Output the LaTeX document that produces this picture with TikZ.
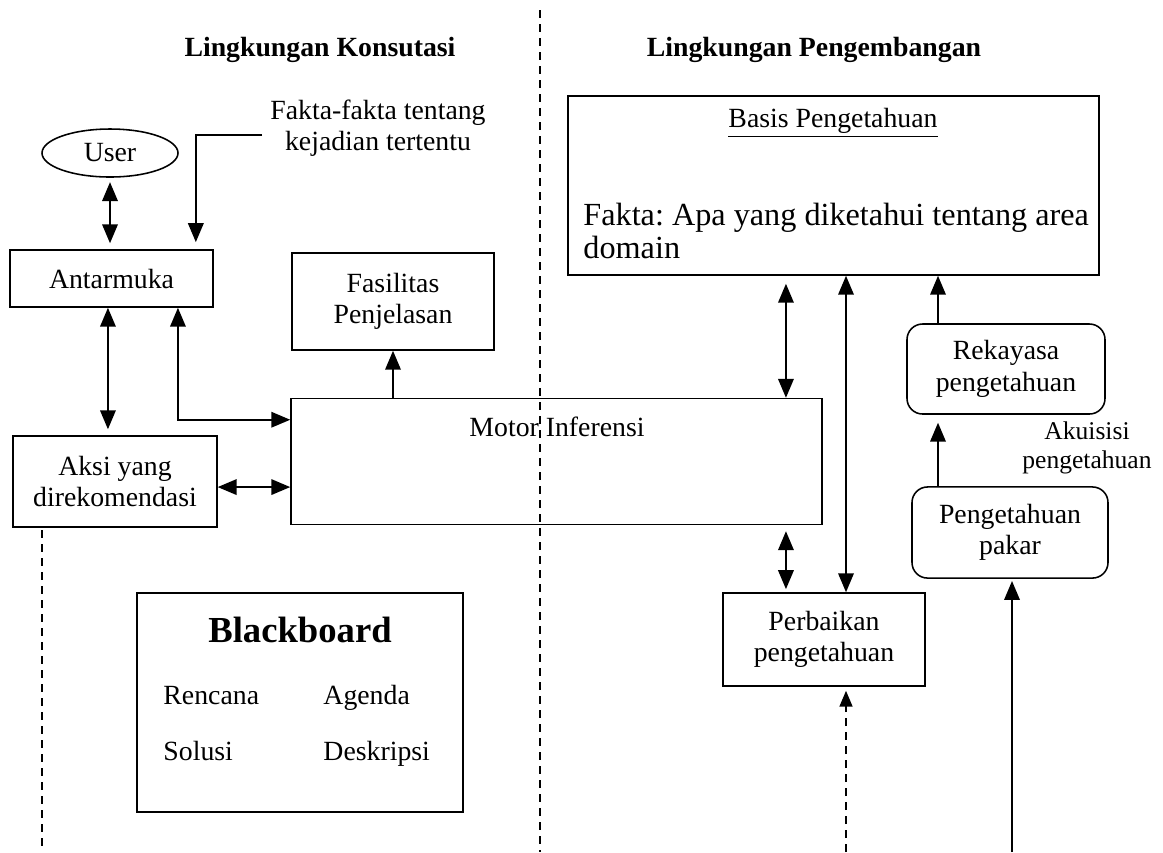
\documentclass[tikz,border=0pt]{standalone}
\usepackage{fontspec}
\setmainfont{Liberation Serif}
\usepackage{tikz}
\usetikzlibrary{arrows}
\usetikzlibrary{shapes.geometric}
\frenchspacing
\tikzset{
every node/.style={font=\fontsize{12.5}{14.2}\selectfont, align=center, inner sep=2pt},
box/.style={rectangle, draw, line width=0.7pt},
rbox/.style={rectangle, draw, rounded corners=7pt, line width=0.7pt},
arr/.style={-triangle 45, line width=0.95pt},
dbl/.style={triangle 45-triangle 45, line width=0.95pt},
divider/.style={dash pattern=on 3.6pt off 2.7pt, line width=0.6pt}
}

\begin{document}
\begin{tikzpicture}[x=0.45pt, y=-0.45pt]
\useasboundingbox (0,0) rectangle (1163,852);

% the two sides
\draw[divider] (540,10) -- (540,852);
\draw[divider] (42,530) -- (42,852);
\node[font=\fontsize{12.5}{14}\selectfont\bfseries] (titleK) at (320,50) {Lingkungan Konsutasi};
\node[font=\fontsize{12.5}{14}\selectfont\bfseries] (titleP) at (814,50) {Lingkungan Pengembangan};

% consultation side
\node [ellipse, draw, line width=0.7pt, inner sep=0pt, minimum width=61.2pt, minimum height=21.6pt] (user) at (110,153) {User};
\node (fakta) at (378,128) {Fakta-fakta tentang\\kejadian tertentu};
\coordinate (faktain) at (262,135);
\node [box, minimum width=91.4pt, minimum height=25.7pt] (antar) at (111.5,278.5) {Antarmuka};
\node [box, minimum width=90.9pt, minimum height=43.7pt] (fasil) at (393,301.5) {Fasilitas\\Penjelasan};
\node [box, minimum width=239pt, minimum height=56.7pt] (motor) at (556.5,461.5) {};
\node (motortext) at (557,427) {Motor Inferensi};
\node [box, minimum width=91.8pt, minimum height=41pt] (aksi) at (115,481.5) {Aksi yang\\direkomendasi};

% blackboard
\node [box, minimum width=146.7pt, minimum height=98.6pt] (black) at (300,702.5) {};
\node[font=\fontsize{16.5}{18}\selectfont\bfseries] (blacktitle) at (300,630) {Blackboard};
\node[anchor=base west, inner sep=0pt] (rencana) at (163,704) {Rencana};
\node[anchor=base west, inner sep=0pt] (agenda) at (323,704) {Agenda};
\node[anchor=base west, inner sep=0pt] (solusi) at (163,760) {Solusi};
\node[anchor=base west, inner sep=0pt] (deskripsi) at (323,760) {Deskripsi};

% development side
\node [box, minimum width=239pt, minimum height=80.6pt] (basis) at (833.5,185.5) {};
\node (basistitle) at (833,123) {\underline{Basis Pengetahuan}};
\node[anchor=west, align=left, inner sep=0pt, font=\fontsize{14.5}{14.85}\selectfont] (basistext) at (583,231) {Fakta: Apa yang diketahui tentang area\\domain};
\node [rbox, minimum width=89.1pt, minimum height=40.5pt] (rek) at (1006,369) {Rekayasa\\pengetahuan};
\node[font=\fontsize{11.5}{13}\selectfont] (akuisisi) at (1087,448) {Akuisisi\\pengetahuan};
\node [rbox, minimum width=88.2pt, minimum height=41pt] (pakar) at (1010,532.5) {Pengetahuan\\pakar};
\node [box, minimum width=90.9pt, minimum height=41.9pt] (perb) at (824,639.5) {Perbaikan\\pengetahuan};
\coordinate (pakarin) at (1012,852);
\coordinate (perbin) at (846,852);

% connectors
\draw[dbl, shorten <=2pt, shorten >=2.7pt] (user.south) -- (user.south |- antar.north);
\draw[arr, shorten >=3.2pt] (faktain) -| ([xshift=-8.1pt]antar.north east);
\draw[dbl, shorten >=2.7pt] ([xshift=-1.6pt]antar.south) -- ([xshift=-1.6pt]antar.south |- aksi.north);
\draw[dbl] ([xshift=29.9pt]antar.south) |- ([yshift=-9.9pt]motor.north west);
\draw[dbl] ([yshift=-2.5pt]aksi.east) -- ([yshift=-2.5pt]aksi.east -| motor.west);
\draw[arr] (motor.north -| fasil.south) -- (fasil.south);
\draw[dbl, shorten >=3.6pt] ([xshift=-16.6pt]motor.north east) -- ([xshift=-16.6pt]motor.north east |- basis.south);
\draw[dbl] ([xshift=9.9pt]perb.north) -- ([xshift=9.9pt]perb.north |- basis.south);
\draw[dbl, shorten <=2.7pt, shorten >=1.4pt] ([xshift=-16.6pt]motor.south east) -- ([xshift=-16.6pt]motor.south east |- perb.north);
\draw[arr] ([xshift=-30.6pt]rek.north) -- ([xshift=-30.6pt]rek.north |- basis.south);
\draw[arr, shorten >=3.6pt] ([xshift=-32.4pt]pakar.north) -- ([xshift=-32.4pt]pakar.north |- rek.south);
\draw[arr, shorten >=1pt] (pakarin) -- (pakarin |- pakar.south);
\draw[arr, divider, shorten >=1.8pt] (perbin) -- (perbin |- perb.south);
\end{tikzpicture}
\end{document}
